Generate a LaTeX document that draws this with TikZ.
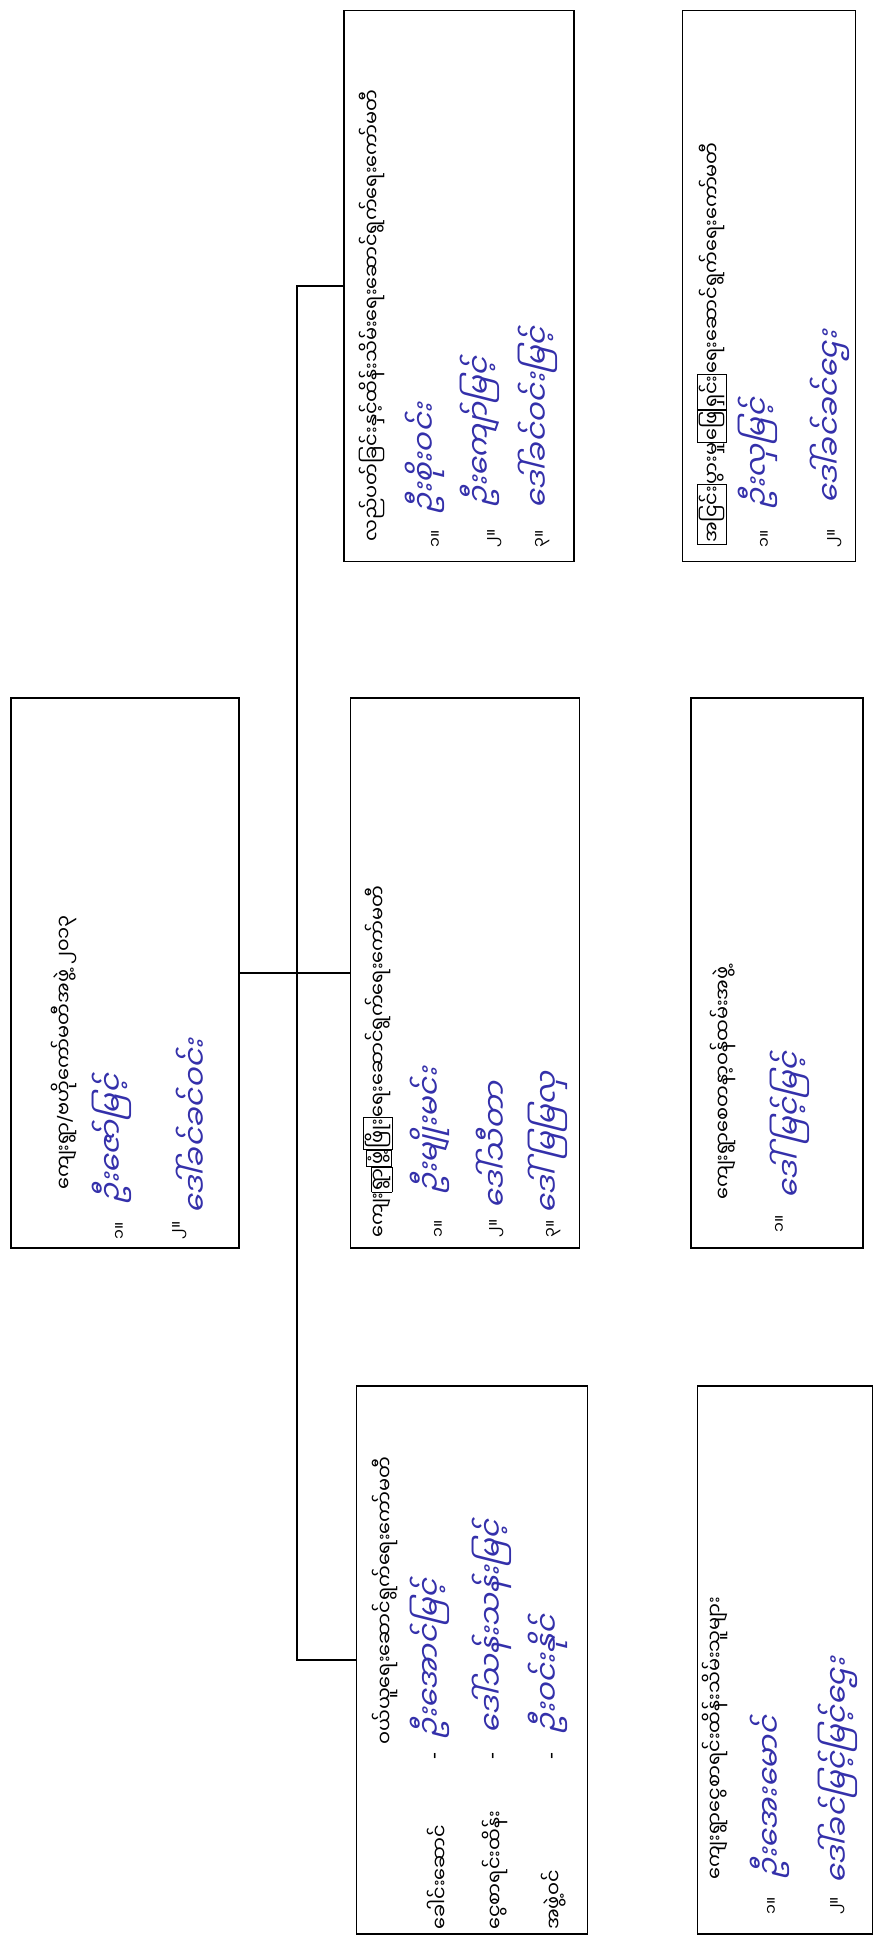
\documentclass[tikz,border=0pt]{standalone}
\usepackage{fontspec}
\newfontfamily\mmfont[Script=Myanmar]{Noto Sans Myanmar UI}
\newfontfamily\mmhand[Script=Myanmar,FakeSlant=0.25]{Noto Sans Myanmar UI}
\newfontfamily\latinfont{DejaVu Sans}
\usetikzlibrary{positioning}
\definecolor{penblue}{RGB}{52,48,170}
\setlength{\fboxsep}{0.6pt}
\setlength{\fboxrule}{0.4pt}
\newcommand{\tofu}[1]{\fbox{#1}}
\newcommand{\lat}[1]{{\latinfont #1}}
\tikzset{
	orgbox/.style 2 args={draw, line width=1.1pt, minimum width=#1*0.02cm, minimum height=#2*0.02cm, inner sep=0pt},
	printed/.style={rotate=90, anchor=west, inner sep=0pt, font=\mmfont\fontsize{11}{13}\selectfont},
	numlbl/.style={printed, font=\mmfont\fontsize{9}{11}\selectfont},
	handname/.style={printed, text=penblue, font=\mmhand\fontsize{17}{19}\selectfont},
	link/.style={line width=1.1pt}
}
\begin{document}
\begin{tikzpicture}[x=0.02cm, y=-0.02cm]
	\useasboundingbox (0,0) rectangle (882,1944);
	
	% Boxes
	\node[orgbox={228}{550}] (root) at (125,973) {};
	\node[orgbox={230}{551}] (oper) at (459,286) {};
	\node[orgbox={229}{550}] (watch) at (465,973) {};
	\node[orgbox={231}{548}] (buy) at (472,1660) {};
	\node[orgbox={173}{551}] (settle) at (769,286) {};
	\node[orgbox={172}{550}] (volun) at (777,973) {};
	\node[orgbox={175}{548}] (keeper) at (785,1660) {};
	
	% Links
	\coordinate (trunk) at (297,973);
	\draw[link] (root.east) -- (watch.west);
	\draw[link] (oper.west) -- (oper.west -| trunk) -- (buy.west -| trunk) -- (buy.west);
	
	% Root box
	\node[printed] (rhead) at (64,1190) {ကျေးရွာ\lat{/}ဗဟိုကော်မတီအဖွဲ့ ၂၀၁၃};
	\node[numlbl] (rn1) at (120,1240) {၁။};
	\node[handname] (rp1) at (112,1205) {ဦးဇော်မြင့်};
	\node[numlbl] (rn2) at (180,1240) {၂။};
	\node[handname] (rp2) at (192,1215) {ဒေါ်ခင်ခင်ဝင်း};
	
	% Operation box
	\node[printed] (ohead) at (372,542) {လည်ပတ်ခြင်းနှင့်ထိန်းသိမ်းရေးဆောင်ရွက်ရေးကော်မတီ};
	\node[numlbl] (on1) at (436,548) {၁။};
	\node[handname] (op1) at (425,515) {ဦးစိုးဝင်း};
	\node[numlbl] (on2) at (495,548) {၂။};
	\node[handname] (op2) at (480,508) {ဦးကျော်မြင့်};
	\node[numlbl] (on3) at (543,548) {၃။};
	\node[handname] (op3) at (538,510) {ဒေါ်ခင်ဝင်းမြင့်};
	
	% Watch box
	\node[printed] (whead) at (378,1238) {ကျေး\tofu{ရွာ}\tofu{ဖွံ့}\tofu{ဖြိုး}ရေးဆောင်ရွက်ရေးကော်မတီ};
	\node[numlbl] (wn1) at (439,1238) {၁။};
	\node[handname] (wp1) at (430,1195) {ဦးမျိုးမင်း};
	\node[numlbl] (wn2) at (497,1238) {၂။};
	\node[handname] (wp2) at (492,1210) {ဒေါ်သီတာ};
	\node[numlbl] (wn3) at (554,1238) {၃။};
	\node[handname] (wp3) at (548,1215) {ဒေါ်မြမြလှ};
	
	% Buying box
	\node[printed] (bhead) at (385,1745) {ဝယ်ယူရေးဆောင်ရွက်ရေးကော်မတီ};
	\node[printed] (bl1) at (437,1930) {ခေါင်းဆောင်};
	\node[printed] (bd1) at (437,1760) {\lat{-}};
	\node[handname] (bp1) at (430,1740) {ဦးအောင်မြင့်};
	\node[printed] (bl2) at (495,1930) {ငွေစာရင်းထိန်း};
	\node[printed] (bd2) at (495,1760) {\lat{-}};
	\node[handname] (bp2) at (492,1735) {ဒေါ်သန်းသန်းမြင့်};
	\node[printed] (bl3) at (554,1930) {အဖွဲ့ဝင်};
	\node[printed] (bd3) at (554,1760) {\lat{-}};
	\node[handname] (bp3) at (548,1735) {ဦးဝင်းနိုင်};
	
	% Settle box
	\node[printed] (shead) at (712,545) {\tofu{အငြင်း}ပွားမှု\tofu{ဖြေ}\tofu{ရှင်း}ရေးဆောင်ရွက်ရေးကော်မတီ};
	\node[numlbl] (sn1) at (765,548) {၁။};
	\node[handname] (sp1) at (758,510) {ဦးလှမြင့်};
	\node[numlbl] (sn2) at (835,548) {၂။};
	\node[handname] (sp2) at (830,505) {ဒေါ်ခင်ခင်ဌေး};
	
	% Volunteer box
	\node[printed] (vhead) at (723,1200) {ကျေးရွာစေတနာ့ဝန်ထမ်းအဖွဲ့};
	\node[numlbl] (vn1) at (780,1233) {၁။};
	\node[handname] (vp1) at (790,1200) {ဒေါ်မြင့်မြင့်};
	
	% Keeper box
	\node[printed] (khead) at (715,1880) {ကျေးရွာငွေစာရင်းထိန်းသိမ်းသူများ};
	\node[numlbl] (kn1) at (772,1915) {၁။};
	\node[handname] (kp1) at (770,1880) {ဦးအေးမောင်};
	\node[numlbl] (kn2) at (838,1915) {၂။};
	\node[handname] (kp2) at (838,1885) {ဒေါ်ခင်မြင့်မြင့်ဌေး};
\end{tikzpicture}
\end{document}
